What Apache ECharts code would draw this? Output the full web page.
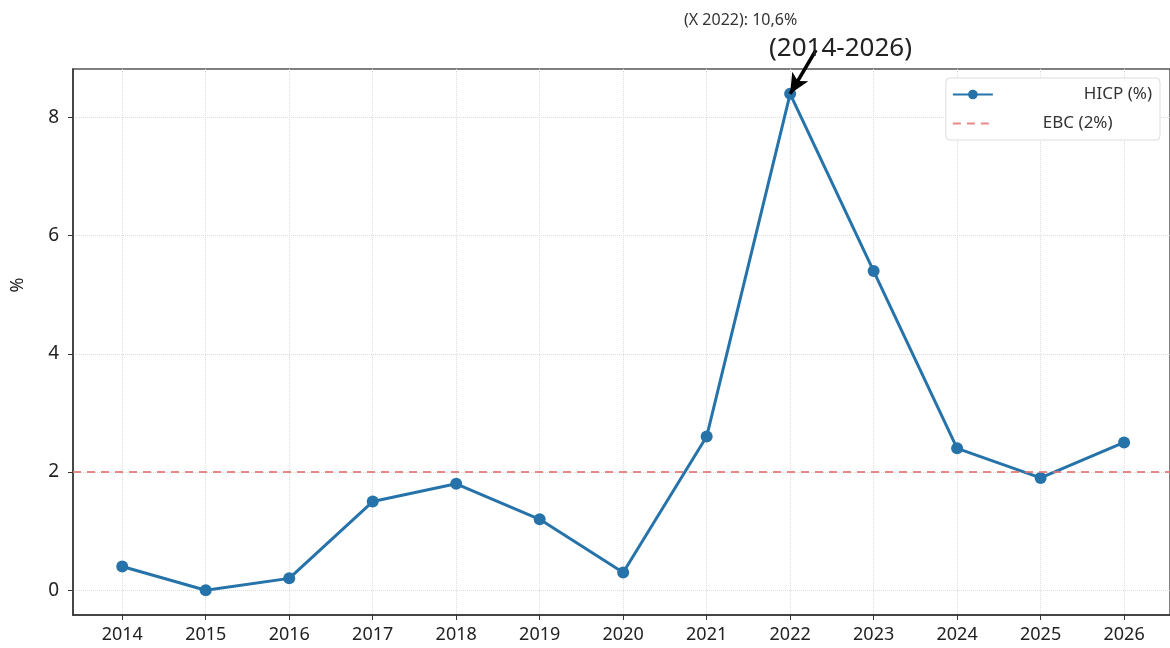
<!DOCTYPE html>
<html>
<head>
<meta charset="utf-8">
<script src="https://cdn.jsdelivr.net/npm/echarts@6/dist/echarts.min.js"></script>
<style>
	html, body { margin: 0; padding: 0; background: #fff; }
	#chart { width: 1170px; height: 648px; }
</style>
</head>
<body>
<div id="chart"></div>
<script>
	// dane
	var years = [2014, 2015, 2016, 2017, 2018, 2019, 2020, 2021, 2022, 2023, 2024, 2025, 2026];
	var hicp = [0.4, 0.0, 0.2, 1.5, 1.8, 1.2, 0.3, 2.6, 8.4, 5.4, 2.4, 1.9, 2.5];
	var ebcTarget = 2;
	var yTicks = [0, 2, 4, 6, 8];
	var peakYear = 2022;
	var peakValue = 8.4;

	var fontName = 'Noto Sans';
	var chart = echarts.init(document.getElementById('chart'));

	var hicpData = [];
	for (var i = 0; i < years.length; i++) {
		hicpData.push([years[i], hicp[i]]);
	}

	var option = {
		backgroundColor: '#fff',
		animation: false,
		textStyle: { fontFamily: fontName },
		title: {
			text: '(2014-2026)',
			left: 764,
			top: 31,
			textStyle: { fontFamily: fontName, fontSize: 26, fontWeight: 'normal', color: '#222' }
		},
		grid: {
			left: 73,
			right: -2,
			top: 69,
			bottom: 33,
			show: true,
			borderColor: '#555',
			borderWidth: 1.5
		},
		legend: {
			right: 10,
			top: 78,
			orient: 'vertical',
			itemWidth: 40,
			itemHeight: 12,
			itemGap: 12,
			padding: [8, 8, 8, 6],
			backgroundColor: '#fff',
			borderColor: '#ddd',
			borderWidth: 1,
			borderRadius: 4,
			data: [
				{ name: 'HICP (%)', textStyle: { padding: [0, 0, 0, 86] } },
				{ name: 'EBC (2%)', itemStyle: { opacity: 0 }, textStyle: { padding: [0, 41, 0, 45] } }
			],
			textStyle: { fontFamily: fontName, fontSize: 17, color: '#333' }
		},
		xAxis: {
			type: 'value',
			min: 2013.41,
			max: 2026.55,
			axisLine: { show: true, onZero: false, lineStyle: { color: '#333', width: 1.5 } },
			axisTick: { show: true, length: 5, customValues: years, lineStyle: { color: '#333' } },
			axisLabel: {
				customValues: years,
				margin: 11,
				fontFamily: fontName,
				fontSize: 18,
				color: '#222',
				formatter: function (v) { return String(v); }
			},
			splitLine: { show: true, lineStyle: { color: '#ddd', type: 'dotted', width: 1 } }
		},
		yAxis: {
			type: 'value',
			min: -0.42,
			max: 8.82,
			axisLine: { show: true, onZero: false, lineStyle: { color: '#333', width: 1.5 } },
			axisTick: { show: true, length: 5, customValues: yTicks, lineStyle: { color: '#333' } },
			axisLabel: {
				customValues: yTicks,
				margin: 14,
				fontFamily: fontName,
				fontSize: 19,
				color: '#222'
			},
			splitLine: { show: true, lineStyle: { color: '#ddd', type: 'dotted', width: 1 } }
		},
		graphic: [
			{
				type: 'text',
				x: 18,
				y: 285,
				rotation: Math.PI / 2,
				style: { text: '%', fontFamily: fontName, fontSize: 18, fill: '#222', align: 'center', verticalAlign: 'middle' }
			},
			{
				type: 'text',
				x: 684,
				y: 12,
				style: { text: '(X 2022): 10,6%', fontFamily: fontName, fontSize: 16, fill: '#333' }
			}
		],
		series: [
			{
				name: 'HICP (%)',
				type: 'line',
				data: hicpData,
				symbol: 'circle',
				symbolSize: 12,
				clip: false,
				lineStyle: { color: '#2673aa', width: 3 },
				itemStyle: { color: '#2673aa' },
				z: 3,
				markLine: {
					silent: true,
					symbol: ['none', 'arrow'],
					symbolSize: [14, 20],
					label: { show: false },
					lineStyle: { color: '#000', width: 3.5, type: 'solid' },
					data: [[
						{ x: 816, y: 50 },
						{ coord: [peakYear, peakValue] }
					]],
					z: 5
				}
			},
			{
				name: 'EBC (2%)',
				type: 'line',
				data: [],
				symbol: 'none',
				lineStyle: { color: '#e57373', width: 1.8, type: [8, 6], opacity: 0.85 },
				itemStyle: { color: '#e57373' },
				z: 2,
				markLine: {
					silent: true,
					symbol: ['none', 'none'],
					label: { show: false },
					lineStyle: { color: '#e57373', width: 1.8, type: [8, 6], opacity: 0.85 },
					data: [{ yAxis: ebcTarget }]
				}
			}
		]
	};

	chart.setOption(option);
</script>
</body>
</html>
